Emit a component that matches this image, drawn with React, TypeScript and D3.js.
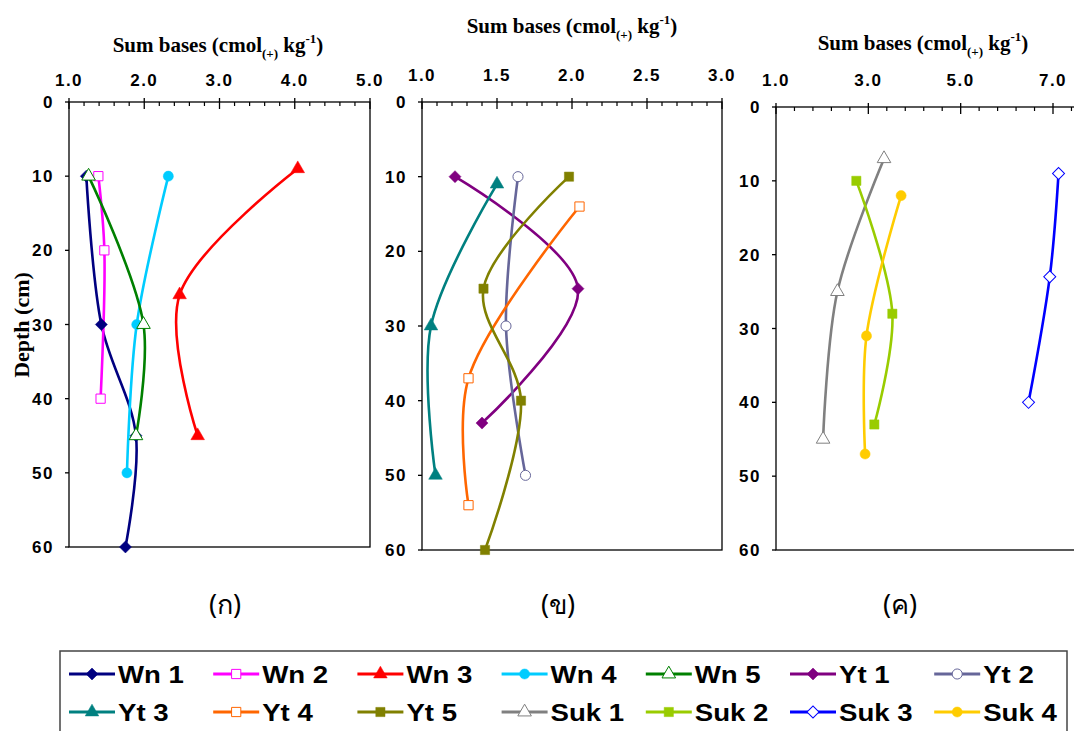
import React, { useEffect, useRef } from 'react';
import * as d3 from 'd3';

// [sum bases, depth] pairs
const wn1 = [[1.23, 10], [1.43, 30], [1.89, 45], [1.75, 60]];
const wn2 = [[1.39, 10], [1.47, 20], [1.42, 40]];
const wn3 = [[4.04, 9], [2.47, 26], [2.71, 45]];
const wn4 = [[2.32, 10], [1.9, 30], [1.77, 50]];
const wn5 = [[1.26, 10], [1.99, 30], [1.89, 45]];

const yt1 = [[1.22, 10], [2.04, 25], [1.4, 43]];
const yt2 = [[1.64, 10], [1.56, 30], [1.69, 50]];
const yt3 = [[1.5, 11], [1.06, 30], [1.09, 50]];
const yt4 = [[2.05, 14], [1.31, 37], [1.31, 54]];
const yt5 = [[1.98, 10], [1.41, 25], [1.66, 40], [1.42, 60]];

const suk1 = [[3.34, 7], [2.33, 25], [2.02, 45]];
const suk2 = [[2.74, 10], [3.52, 28], [3.13, 43]];
const suk3 = [[7.12, 9], [6.93, 23], [6.47, 40]];
const suk4 = [[3.71, 12], [2.96, 31], [2.93, 47]];

const depthTicks = [0, 10, 20, 30, 40, 50, 60];
const panelLabels = ['(ก)', '(ข)', '(ค)'];

// look of each series
const styles = {
  'Wn 1': { color: '#000080', shape: 'diamond', open: false },
  'Wn 2': { color: '#FF00FF', shape: 'square', open: true },
  'Wn 3': { color: '#FF0000', shape: 'triangle', open: false },
  'Wn 4': { color: '#00CCFF', shape: 'circle', open: false },
  'Wn 5': { color: '#008000', shape: 'triangle', open: true },
  'Yt 1': { color: '#800080', shape: 'diamond', open: false },
  'Yt 2': { color: '#666699', shape: 'circle', open: true },
  'Yt 3': { color: '#008080', shape: 'triangle', open: false },
  'Yt 4': { color: '#FF6600', shape: 'square', open: true },
  'Yt 5': { color: '#808000', shape: 'square', open: false },
  'Suk 1': { color: '#808080', shape: 'triangle', open: true },
  'Suk 2': { color: '#99CC00', shape: 'square', open: false },
  'Suk 3': { color: '#0000FF', shape: 'diamond', open: true },
  'Suk 4': { color: '#FFCC00', shape: 'circle', open: false },
};

const panels = [
  {
    left: 69, right: 370, top: 102, bottom: 547, domain: [1, 5],
    major: [1, 2, 3, 4, 5], minor: 0.2, titleX: 218, titleY: 52, tickY: 86, labelX: 225,
    series: [['Wn 1', wn1], ['Wn 2', wn2], ['Wn 3', wn3], ['Wn 4', wn4], ['Wn 5', wn5]],
  },
  {
    left: 422, right: 722, top: 102, bottom: 550, domain: [1, 3],
    major: [1, 1.5, 2, 2.5, 3], minor: 0.1, titleX: 572, titleY: 33, tickY: 81, labelX: 558,
    series: [['Yt 1', yt1], ['Yt 2', yt2], ['Yt 3', yt3], ['Yt 4', yt4], ['Yt 5', yt5]],
  },
  {
    left: 776, right: 776 + (277 / 6) * 7, top: 107, bottom: 550, domain: [1, 8],
    major: [1, 3, 5, 7], minor: 0.4, titleX: 923, titleY: 50, tickY: 86, labelX: 900,
    series: [['Suk 1', suk1], ['Suk 2', suk2], ['Suk 3', suk3], ['Suk 4', suk4]],
  },
];

const legendOrder = [
  'Wn 1', 'Wn 2', 'Wn 3', 'Wn 4', 'Wn 5', 'Yt 1', 'Yt 2',
  'Yt 3', 'Yt 4', 'Yt 5', 'Suk 1', 'Suk 2', 'Suk 3', 'Suk 4',
];

const symbolPath = (shape) => {
  if (shape === 'diamond') return d3.symbol(d3.symbolSquare, 72)();
  if (shape === 'square') return d3.symbol(d3.symbolSquare, 85)();
  if (shape === 'triangle') return d3.symbol(d3.symbolTriangle, 80)();
  return d3.symbol(d3.symbolCircle, 80)();
};

const drawMarker = (g, style, x, y) => {
  g.append('path')
    .attr('d', symbolPath(style.shape))
    .attr('transform', `translate(${x},${y})${style.shape === 'diamond' ? ' rotate(45)' : ''}`)
    .attr('fill', style.open ? '#fff' : style.color)
    .attr('stroke', style.color)
    .attr('stroke-width', style.open ? 1 : 0.5);
};

const serif = '"Liberation Serif", "Times New Roman", serif';
const sans = '"Liberation Sans", Arial, sans-serif';

const App = () => {
  const ref = useRef(null);

  useEffect(() => {
    const svg = d3.select(ref.current);
    svg.selectAll('*').remove();

    panels.forEach((p, pi) => {
      const x = d3.scaleLinear().domain(p.domain).range([p.left, p.right]);
      const y = d3.scaleLinear().domain([0, 60]).range([p.top, p.bottom]);
      const g = svg.append('g');

      // title
      const t = g.append('text')
        .attr('x', p.titleX).attr('y', p.titleY)
        .attr('text-anchor', 'middle')
        .style('font-family', serif).style('font-weight', 'bold').style('font-size', '21px');
      t.append('tspan').text('Sum bases (cmol');
      t.append('tspan').attr('dy', 6).style('font-size', '13px').text('(+)');
      t.append('tspan').attr('dy', -6).text(' kg');
      t.append('tspan').attr('dy', -9).style('font-size', '13px').text('-1');
      t.append('tspan').attr('dy', 9).text(')');

      // frame
      g.append('rect')
        .attr('x', p.left).attr('y', p.top)
        .attr('width', p.right - p.left).attr('height', p.bottom - p.top)
        .attr('fill', 'none').attr('stroke', '#000').attr('stroke-width', 1.3);

      // x ticks on top
      const minorTicks = d3.range(p.domain[0], p.domain[1] + 1e-6, p.minor)
        .filter(v => !p.major.some(m => Math.abs(m - v) < 1e-6));
      g.selectAll(null).data(minorTicks).enter().append('line')
        .attr('x1', d => x(d)).attr('x2', d => x(d))
        .attr('y1', p.top).attr('y2', p.top + 4)
        .attr('stroke', '#000').attr('stroke-width', 1.2);
      g.selectAll(null).data(p.major).enter().append('line')
        .attr('x1', d => x(d)).attr('x2', d => x(d))
        .attr('y1', p.top - 4).attr('y2', p.top + 7)
        .attr('stroke', '#000').attr('stroke-width', 1.3);
      g.selectAll(null).data(p.major).enter().append('text')
        .attr('x', d => x(d)).attr('y', p.tickY)
        .attr('text-anchor', 'middle')
        .style('font-family', sans).style('font-weight', 'bold').style('font-size', '17px')
        .style('letter-spacing', '1.5px')
        .text(d => d3.format('.1f')(d));

      // y ticks on left
      g.selectAll(null).data(depthTicks).enter().append('line')
        .attr('x1', p.left - 4).attr('x2', p.left)
        .attr('y1', d => y(d)).attr('y2', d => y(d))
        .attr('stroke', '#000').attr('stroke-width', 1.3);
      g.selectAll(null).data(depthTicks).enter().append('text')
        .attr('x', p.left - 15).attr('y', d => y(d) + 6)
        .attr('text-anchor', 'end')
        .style('font-family', sans).style('font-weight', 'bold').style('font-size', '17px')
        .style('letter-spacing', '1.5px')
        .text(d => d);

      // series
      const line = d3.line()
        .x(d => x(d[0])).y(d => y(d[1]))
        .curve(d3.curveCatmullRom.alpha(0.5));
      p.series.forEach(([name, data]) => {
        const st = styles[name];
        g.append('path')
          .attr('d', line(data))
          .attr('fill', 'none').attr('stroke', st.color).attr('stroke-width', 2.6);
      });
      p.series.forEach(([name, data]) => {
        const st = styles[name];
        data.forEach(d => drawMarker(g, st, x(d[0]), y(d[1])));
      });

      // panel label
      g.append('text')
        .attr('x', p.labelX).attr('y', 614)
        .attr('text-anchor', 'middle')
        .style('font-family', '"Noto Sans", "DejaVu Sans", sans-serif').style('font-size', '27px')
        .text(panelLabels[pi]);
    });

    // depth axis title
    svg.append('text')
      .attr('transform', 'translate(29,325) rotate(-90)')
      .attr('text-anchor', 'middle')
      .style('font-family', serif).style('font-weight', 'bold').style('font-size', '22px')
      .text('Depth (cm)');

    // legend
    const lg = svg.append('g');
    lg.append('rect')
      .attr('x', 60).attr('y', 651).attr('width', 1007).attr('height', 100)
      .attr('fill', '#fff').attr('stroke', '#444').attr('stroke-width', 1.5);
    legendOrder.forEach((name, i) => {
      const st = styles[name];
      const col = i % 7;
      const row = Math.floor(i / 7);
      const lx = 69 + col * 144.2;
      const ly = 674 + row * 38;
      lg.append('line')
        .attr('x1', lx).attr('x2', lx + 46).attr('y1', ly).attr('y2', ly)
        .attr('stroke', st.color).attr('stroke-width', 2.8);
      drawMarker(lg, st, lx + 23, ly);
      lg.append('text')
        .attr('transform', `translate(${lx + 49},${ly + 8.5}) scale(1.2,1)`)
        .style('font-family', sans).style('font-weight', 'bold').style('font-size', '23px')
        .text(name);
    });
  }, []);

  return (
    <svg
      ref={ref}
      width={1074}
      height={731}
      style={{ position: 'absolute', left: 0, top: 0, background: '#fff' }}
    />
  );
};

export default App;
